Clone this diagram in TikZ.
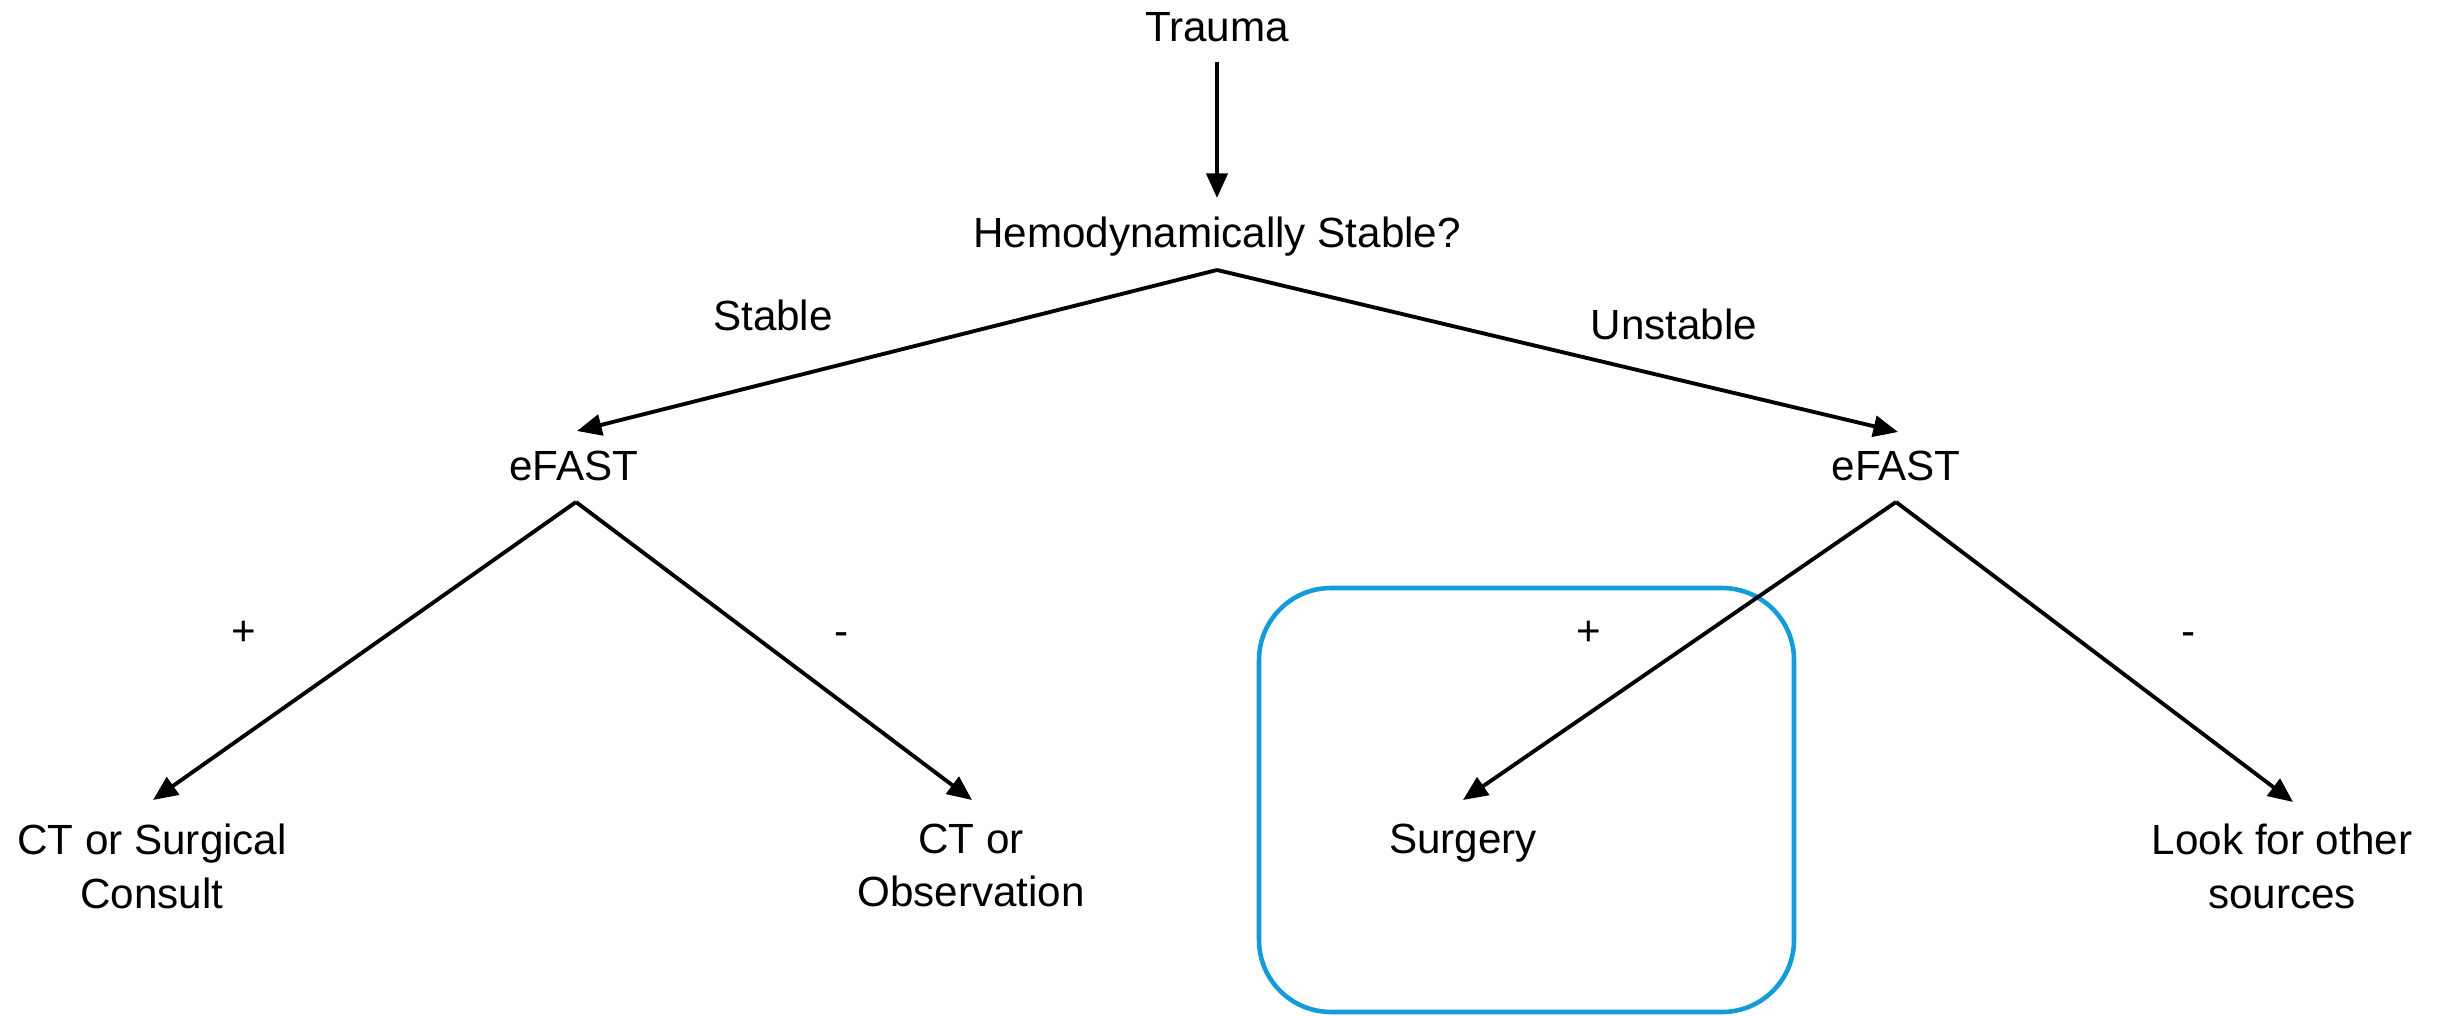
\documentclass[tikz,border=0pt]{standalone}
\usepackage{fontspec}
\setmainfont{Liberation Sans}
\usetikzlibrary{arrows.meta}
\definecolor{boxblue}{RGB}{20,156,216}
\begin{document}
\begin{tikzpicture}[x=0.01cm,y=-0.01cm,
  lbl/.style={inner sep=0pt,anchor=base,font=\fontsize{12}{15.3}\selectfont,align=center},
  conn/.style={line width=1.1pt,-{Triangle[length=7pt,width=6pt]}},
  hl/.style={draw=boxblue,line width=1.3pt,rounded corners=0.72cm}]
\useasboundingbox (0,0) rectangle (2440,1016);
% highlight box
\draw[hl] (1259,588) rectangle (1794,1012);
% text nodes
\node[lbl] (trauma) at (1217,42) {Trauma};
\node[lbl] (hemo) at (1217,248) {Hemodynamically Stable?};
\node[lbl] (stable) at (773,331) {Stable};
\node[lbl] (unstable) at (1674,340) {Unstable};
\node[lbl] (efl) at (574,481) {eFAST};
\node[lbl] (efr) at (1896,481) {eFAST};
\node[lbl] (pl) at (244,645) {+};
\node[lbl] (ml) at (842,645) {-};
\node[lbl] (pr) at (1589,645) {+};
\node[lbl] (mr) at (2188,645) {-};
\node[lbl,anchor=north] (ctsc) at (152,823) {CT or Surgical\\Consult};
\node[lbl,anchor=north] (ctobs) at (971,823) {CT or\\Observation};
\node[lbl] (surg) at (1463,853) {Surgery};
\node[lbl,anchor=north] (look) at (2282,823) {Look for other\\sources};
% connector points
\coordinate (tb) at (1217,62);
\coordinate (ht) at (1217,198);
\coordinate (hb) at (1217,270);
\coordinate (eflt) at (577,431);
\coordinate (efrt) at (1898,432);
\coordinate (eflb) at (576,502);
\coordinate (efrb) at (1896,502);
\coordinate (ctsct) at (153,800);
\coordinate (ctobst) at (972,800);
\coordinate (surgt) at (1463,800);
\coordinate (lookt) at (2293,802);
% connectors
\draw[conn] (tb) -- (ht);
\draw[conn] (hb) -- (eflt);
\draw[conn] (hb) -- (efrt);
\draw[conn] (eflb) -- (ctsct);
\draw[conn] (eflb) -- (ctobst);
\draw[conn] (efrb) -- (surgt);
\draw[conn] (efrb) -- (lookt);
\end{tikzpicture}
\end{document}
